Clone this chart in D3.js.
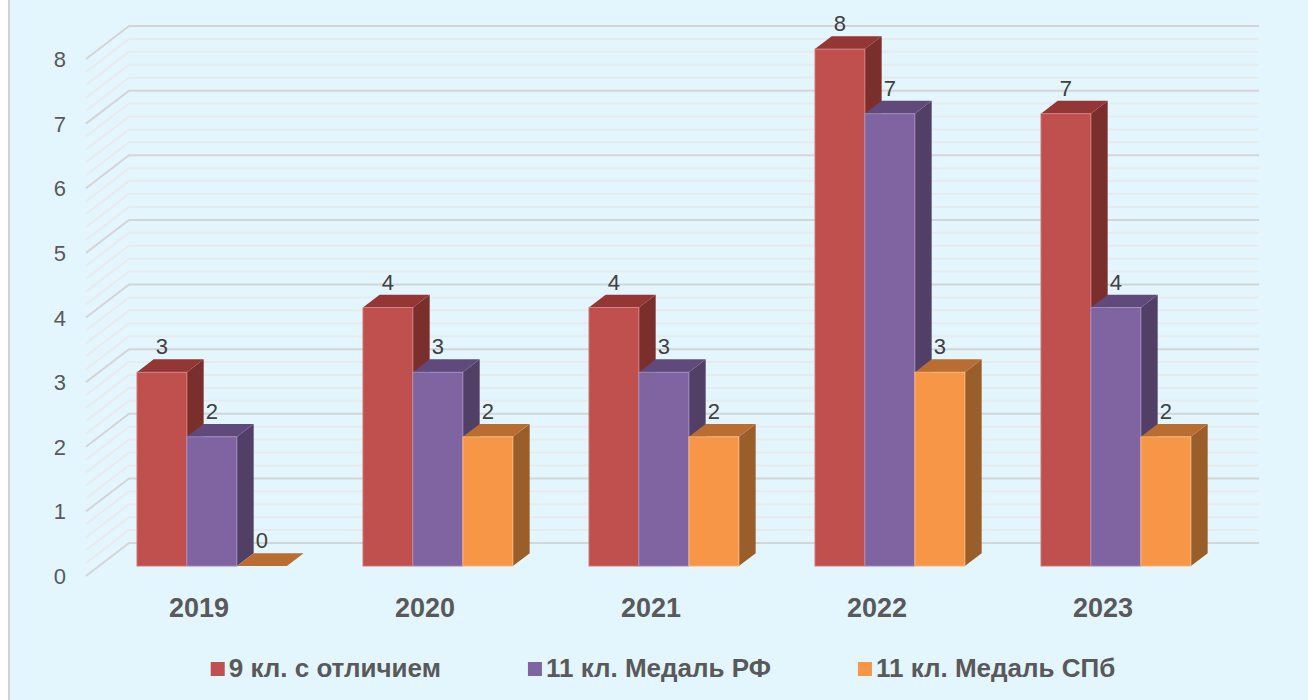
<!DOCTYPE html>
<html>
<head>
<meta charset="utf-8">
<script src="https://cdn.jsdelivr.net/npm/d3@7/dist/d3.min.js"></script>
<style>
  html, body { margin: 0; padding: 0; background: #fff; }
  text { font-family: "Liberation Sans", Arial, sans-serif; }
</style>
</head>
<body>
<script>
// ---- data ----
var years = ['2019', '2020', '2021', '2022', '2023'];
var seriesNames = ['9 кл. с отличием', '11 кл. Медаль РФ', '11 кл. Медаль СПб'];
var excellent9 = [3, 4, 4, 8, 7];
var medalRF = [2, 3, 3, 7, 4];
var medalSPb = [0, 2, 2, 3, 2];
var yTicks = [0, 1, 2, 3, 4, 5, 6, 7, 8];

var seriesValues = [excellent9, medalRF, medalSPb];
// front / top / side shades for each series
var faceColors = [
  { front: '#c0504d', top: '#943634', side: '#7b2f2d', edge: '#d98a87' },
  { front: '#8064a2', top: '#604a7b', side: '#513f66', edge: '#a894c0' },
  { front: '#f79646', top: '#b96d31', side: '#9a5e2a', edge: '#fbbf8c' }
];

var WIDTH = 1308, HEIGHT = 700;
var DX = 43, DY = 33;        // depth offset of the 3D box (back -> front)
var Z_FRONT = 0.70, Z_BACK = 0.31;

var svg = d3.select('body').append('svg')
  .attr('width', WIDTH)
  .attr('height', HEIGHT);

// background + left border
svg.append('rect')
  .attr('x', 10).attr('y', 0)
  .attr('width', WIDTH - 10).attr('height', HEIGHT)
  .attr('fill', '#e3f6fd');
svg.append('line')
  .attr('x1', 9).attr('x2', 9).attr('y1', 0).attr('y2', HEIGHT)
  .attr('stroke', '#d2d2d2').attr('stroke-width', 2);

// scales on the back wall
var x0 = d3.scaleBand().domain(years).range([129, 1259]);
var x1 = d3.scaleBand().domain(seriesNames).range([0, x0.bandwidth()]).paddingOuter(0.76);
var y = d3.scaleLinear().domain([0, 8]).range([543, 26]);

function proj(x, yy, z) { return [x - DX * z, yy + DY * z]; }
function pts(arr) { return arr.map(function (p) { return p.join(','); }).join(' '); }

// gridlines (minor every 0.2, major every 1)
var grid = svg.append('g');
var minorVals = d3.range(0, 41).map(function (i) { return i / 5; });
minorVals.sort(function (a, b) { return (Number.isInteger(a) ? 1 : 0) - (Number.isInteger(b) ? 1 : 0); });
grid.selectAll('polyline')
  .data(minorVals)
  .enter()
  .append('polyline')
  .attr('points', function (v) {
    var yy = y(v);
    return pts([proj(129, yy, 1), [129, yy], [1259, yy]]);
  })
  .attr('fill', 'none')
  .attr('stroke', function (v) { return Number.isInteger(v) ? '#d3d5d6' : '#e8ebed'; })
  .attr('stroke-width', 2);

// y tick labels on the front edge
svg.append('g').selectAll('text')
  .data(yTicks)
  .enter()
  .append('text')
  .attr('x', 66)
  .attr('y', function (d) { return proj(129, y(d), 1)[1] + 8; })
  .attr('text-anchor', 'end')
  .style('font-size', '22px')
  .style('fill', '#595959')
  .text(function (d) { return d; });

// bars
var bars = svg.append('g');
var labels = [];
years.forEach(function (yr, i) {
  seriesNames.forEach(function (s, j) {
    var v = seriesValues[j][i];
    var c = faceColors[j];
    var xb = x0(yr) + x1(s), w = x1.bandwidth();
    var yt = y(v), yb = y(0);
    var g = bars.append('g');
    g.append('polygon')
      .attr('points', pts([proj(xb + w, yt, Z_FRONT), proj(xb + w, yt, Z_BACK),
                           proj(xb + w, yb, Z_BACK), proj(xb + w, yb, Z_FRONT)]))
      .attr('fill', c.side);
    g.append('polygon')
      .attr('points', pts([proj(xb, yt, Z_FRONT), proj(xb + w, yt, Z_FRONT),
                           proj(xb + w, yt, Z_BACK), proj(xb, yt, Z_BACK)]))
      .attr('fill', c.top);
    var f0 = proj(xb, yt, Z_FRONT), f1 = proj(xb + w, yb, Z_FRONT);
    if (v > 0) {
      g.append('rect')
        .attr('x', f0[0]).attr('y', f0[1])
        .attr('width', f1[0] - f0[0]).attr('height', f1[1] - f0[1])
        .attr('fill', c.front)
        .attr('stroke', c.edge).attr('stroke-width', 0.8);
    }
    labels.push({
      v: v,
      x: proj(xb + w / 2, yt, Z_FRONT)[0],
      y: proj(xb, yt, Z_BACK)[1] - 5
    });
  });
});

// value labels
svg.append('g').selectAll('text')
  .data(labels)
  .enter()
  .append('text')
  .attr('x', function (d) { return d.x; })
  .attr('y', function (d) { return d.y; })
  .attr('text-anchor', 'middle')
  .style('font-size', '22px')
  .style('fill', '#404040')
  .text(function (d) { return d.v; });

// category labels
svg.append('g').selectAll('text')
  .data(years)
  .enter()
  .append('text')
  .attr('x', function (d) { return proj(x0(d) + x0.bandwidth() / 2, y(0), 1)[0]; })
  .attr('y', function (d) { return proj(0, y(0), 1)[1] + 41; })
  .attr('text-anchor', 'middle')
  .style('font-size', '27px')
  .style('font-weight', 'bold')
  .style('fill', '#595959')
  .text(function (d) { return d; });

// legend
var legend = svg.append('g');
var items = legend.selectAll('g')
  .data(seriesNames)
  .enter()
  .append('g');
items.append('rect')
  .attr('width', 14).attr('height', 14)
  .attr('y', -14)
  .attr('fill', function (d, i) { return faceColors[i].front; });
items.append('text')
  .attr('x', 18)
  .attr('y', 1)
  .style('font-size', '26px')
  .style('font-weight', 'bold')
  .style('fill', '#595959')
  .text(function (d) { return d; });

var cursor = 0;
items.each(function () {
  var el = d3.select(this);
  el.attr('transform', 'translate(' + cursor + ',0)');
  cursor += 18 + el.select('text').node().getComputedTextLength() + 87;
});
var total = cursor - 87;
legend.attr('transform', 'translate(' + (663 - total / 2) + ',676)');
</script>
</body>
</html>
